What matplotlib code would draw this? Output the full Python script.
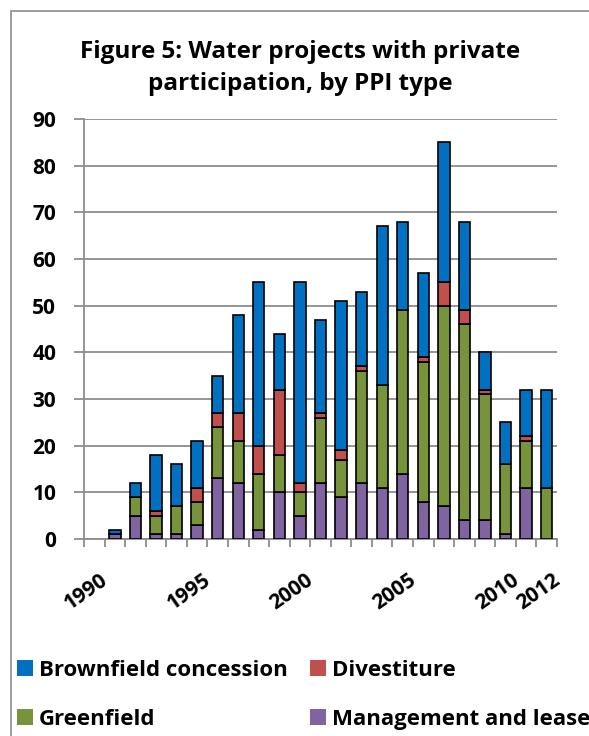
import matplotlib.pyplot as plt
import numpy as np
from matplotlib.patches import Rectangle

years = list(range(1990, 2013))
management_lease = [0, 1, 5, 1, 1, 3, 13, 12, 2, 10, 5, 12, 9, 12, 11, 14, 8, 7, 4, 4, 1, 11, 0]
greenfield = [0, 0, 4, 4, 6, 5, 11, 9, 12, 8, 5, 14, 8, 24, 22, 35, 30, 43, 42, 27, 15, 10, 11]
divestiture = [0, 0, 0, 1, 0, 3, 3, 6, 6, 14, 2, 1, 2, 1, 0, 0, 1, 5, 3, 1, 0, 1, 0]
brownfield = [0, 1, 3, 12, 9, 10, 8, 21, 35, 12, 43, 20, 32, 16, 34, 19, 18, 30, 19, 8, 9, 10, 21]
labelled_years = [1990, 1995, 2000, 2005, 2010, 2012]

C_BLUE = "#0070C0"
C_RED = "#C0504D"
C_GREEN = "#77933C"
C_PURPLE = "#8064A2"
GRID = "#8C8C8C"


def main():
    plt.rcParams["font.family"] = ["Open Sans", "DejaVu Sans"]
    plt.rcParams["font.weight"] = "bold"

    fig = plt.figure(figsize=(5.89, 7.36), dpi=100)
    W, H = 589, 736
    ax = fig.add_axes([84 / W, 1 - 539 / H, (557 - 84) / W, (539 - 119) / H])

    # outer chart border (cut off at right and bottom in the reference)
    fig.patches.append(Rectangle((11 / W, -0.1), 1.2, 1 - 10.5 / H + 0.1,
                                 transform=fig.transFigure, fill=False,
                                 edgecolor="#8C8C8C", lw=1.2))

    x = np.arange(len(years))
    series = [
        (np.array(management_lease), C_PURPLE, "Management and lease"),
        (np.array(greenfield), C_GREEN, "Greenfield"),
        (np.array(divestiture), C_RED, "Divestiture"),
        (np.array(brownfield), C_BLUE, "Brownfield concession"),
    ]
    bottom = np.zeros(len(years))
    for vals, col, name in series:
        lw = np.where(vals > 0, 1.2, 0.0)
        ax.bar(x, vals, bottom=bottom, width=0.55, color=col, edgecolor="black",
               linewidth=lw, label=name, zorder=3)
        bottom = bottom + vals

    ax.set_xlim(-0.5, len(years) - 0.5)
    ax.set_ylim(0, 90)
    ax.set_yticks(range(0, 91, 10))
    ax.yaxis.grid(True, color=GRID, lw=1.3, zorder=0)
    ax.set_axisbelow(True)

    for s in ["top", "right"]:
        ax.spines[s].set_visible(False)
    for s in ["left", "bottom"]:
        ax.spines[s].set_color(GRID)
        ax.spines[s].set_linewidth(1.3)

    ax.tick_params(axis="y", length=7, width=1.3, color=GRID, labelsize=15, pad=13)
    ax.set_xticks(np.arange(-0.5, len(years), 1.0))
    ax.set_xticklabels([])
    ax.tick_params(axis="x", length=6, width=1.3, color=GRID)
    for lbl in ax.get_yticklabels():
        lbl.set_fontweight("bold")

    for yr in labelled_years:
        i = years.index(yr)
        ax.text(i + 0.25, -6.5, str(yr), rotation=35, ha="right", va="top",
                rotation_mode="anchor", fontsize=15, fontweight="bold",
                transform=ax.transData, clip_on=False)

    fig.text(300 / W, 1 - 68 / H, "Figure 5: Water projects with private\nparticipation, by PPI type",
             ha="center", va="center", fontsize=17.5, fontweight="bold", linespacing=1.45)

    handles, labels = ax.get_legend_handles_labels()
    order = [3, 1, 2, 0]
    leg = fig.legend([handles[i] for i in order], [labels[i] for i in order],
                     loc="upper left", bbox_to_anchor=(17 / W, 1 - 660 / H),
                     ncol=2, frameon=False, fontsize=16, handlelength=0.7,
                     handleheight=0.7, handletextpad=0.3, columnspacing=1.0,
                     labelspacing=1.25, borderaxespad=0, borderpad=0)
    for t in leg.get_texts():
        t.set_fontweight("bold")

    plt.savefig("out.png", dpi=100)
    plt.close()


if __name__ == "__main__":
    main()
